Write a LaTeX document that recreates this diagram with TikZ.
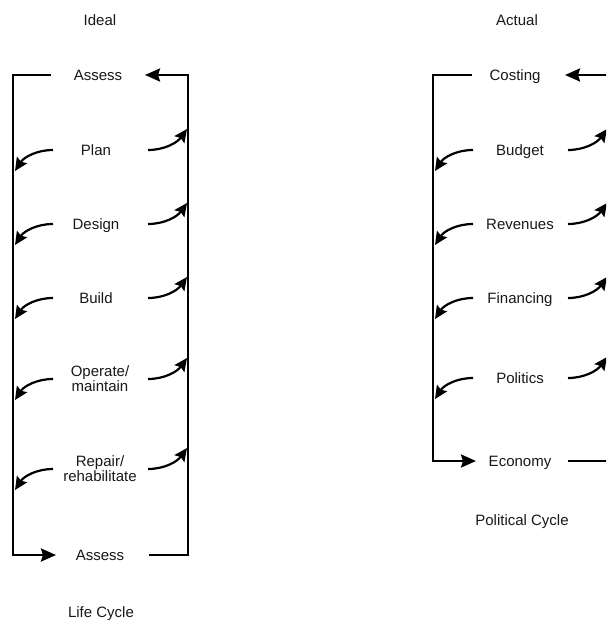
\documentclass[tikz,border=0pt]{standalone}
\usepackage{fontspec}
\setmainfont{Liberation Sans}
\usetikzlibrary{arrows.meta,calc}
\begin{document}
\begin{tikzpicture}[x=1pt,y=-1pt,
  lbl/.style={font=\fontsize{15}{15}\selectfont, text=black!90, align=center, inner sep=0pt, text height=10.7pt, text depth=0pt},
  lbltwo/.style={font=\fontsize{15}{15}\selectfont, text=black!90, align=center, inner sep=0pt},
  frame/.style={line width=2.4pt, line join=miter},
  tipend/.style={-{Stealth[length=15pt,width=13pt,inset=2pt]}},
  carr/.style={line width=2.2pt, -{Stealth[length=13pt,width=12pt,inset=2pt]}}]
\useasboundingbox (0,0) rectangle (606,620);
\clip (0,0) rectangle (606,620);
\fill[white] (0,0) rectangle (606,620);

% ---------- Left: life cycle ----------
\node[lbl] (ideal) at (100,20) {Ideal};
\node[lbl] (assessT) at (98,75) {Assess};
\node[lbl] (plan) at (96,150) {Plan};
\node[lbl] (design) at (96,224) {Design};
\node[lbl] (build) at (96,298) {Build};
\node[lbltwo] (operate) at (100,379) {Operate/\\maintain};
\node[lbltwo] (repair) at (100,469) {Repair/\\rehabilitate};
\node[lbl] (assessB) at (100,555) {Assess};
\node[lbl] (life) at (101,612) {Life Cycle};

\coordinate (LTa) at (51,75);
\coordinate (LTl) at (13,75);
\coordinate (LBl) at (13,555);
\coordinate (LBa) at (56,555);
\coordinate (RBa) at (149,555);
\coordinate (RB) at (188,555);
\coordinate (RT) at (188,75);
\coordinate (RTa) at (145,75);
\draw[frame,tipend] (LTa) -- (LTl) -- (LBl) -- (LBa);
\draw[frame,tipend] (RBa) -- (RB) -- (RT) -- (RTa);

\foreach \n in {plan,design,build,operate,repair}{
  \draw[carr] (53,0 |- \n) .. controls ($(37,0 |- \n)+(0,0)$) and ($(24,0 |- \n)+(0,7)$) .. ($(15,0 |- \n)+(0,21)$);
  \draw[carr] (148,0 |- \n) .. controls ($(164,0 |- \n)+(0,0)$) and ($(177,0 |- \n)+(0,-7)$) .. ($(187,0 |- \n)+(0,-21)$);
}

% ---------- Right: political cycle ----------
\node[lbl] (actual) at (517,20) {Actual};
\node[lbl] (costing) at (515,75) {Costing};
\node[lbl] (budget) at (520,150) {Budget};
\node[lbl] (revenues) at (520,224) {Revenues};
\node[lbl] (financing) at (520,298) {Financing};
\node[lbl] (politics) at (520,378) {Politics};
\node[lbl] (economy) at (520,461) {Economy};
\node[lbl] (polcyc) at (522,520) {Political Cycle};

\coordinate (PTa) at (472,75);
\coordinate (PTl) at (433,75);
\coordinate (PBl) at (433,461);
\coordinate (PBa) at (476,461);
\coordinate (QBa) at (568,461);
\coordinate (QB) at (608,461);
\coordinate (QT) at (608,75);
\coordinate (QTa) at (565,75);
\draw[frame,tipend] (PTa) -- (PTl) -- (PBl) -- (PBa);
\draw[frame,tipend] (QBa) -- (QB) -- (QT) -- (QTa);

\foreach \n in {budget,revenues,financing,politics}{
  \draw[carr] (473,0 |- \n) .. controls ($(457,0 |- \n)+(0,0)$) and ($(444,0 |- \n)+(0,7)$) .. ($(435,0 |- \n)+(0,21)$);
  \draw[carr] (568,0 |- \n) .. controls ($(584,0 |- \n)+(0,0)$) and ($(597,0 |- \n)+(0,-7)$) .. ($(607,0 |- \n)+(0,-21)$);
}
\end{tikzpicture}
\end{document}
